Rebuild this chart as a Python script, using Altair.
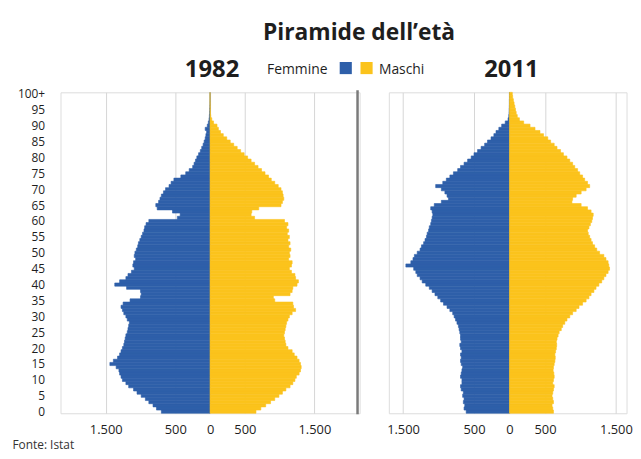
import altair as alt
import pandas as pd

# ---------------- data ----------------
ages = list(range(0, 101))

femmine_1982 = [
    700, 770, 820, 880, 930, 990, 1050, 1100, 1170, 1210,
    1260, 1280, 1300, 1310, 1350, 1440, 1390, 1330, 1300, 1280,
    1260, 1240, 1230, 1220, 1210, 1190, 1180, 1170, 1160, 1190,
    1210, 1240, 1260, 1280, 1250, 1150, 1000, 990, 1000, 1200,
    1370, 1300, 1210, 1180, 1130, 1090, 1110, 1100, 1070, 1090,
    1080, 1060, 1040, 1030, 1010, 990, 970, 950, 940, 920,
    880, 470, 430, 540, 760, 780, 740, 720, 700, 670,
    640, 590, 560, 520, 420, 350, 300, 250, 230, 210,
    190, 165, 140, 120, 100, 85, 70, 60, 50, 70,
    40, 25, 15, 10, 6, 4, 2, 1, 0, 0,
    0,
]

maschi_1982 = [
    660, 730, 800, 870, 930, 990, 1040, 1090, 1150, 1190,
    1220, 1240, 1280, 1300, 1310, 1300, 1280, 1250, 1210, 1180,
    1120, 1090, 1080, 1070, 1060, 1070, 1080, 1090, 1100, 1120,
    1140, 1180, 1230, 1200, 1190, 930, 910, 1150, 1180, 1190,
    1250, 1270, 1230, 1220, 1170, 1140, 1170, 1180, 1130, 1150,
    1140, 1160, 1130, 1150, 1120, 1140, 1110, 1130, 1100, 1120,
    1070, 640, 590, 600, 700, 1020, 1040, 1060, 1050, 1040,
    1020, 980, 930, 880, 840, 790, 740, 690, 640, 590,
    540, 490, 440, 390, 340, 290, 240, 190, 150, 120,
    100, 50, 25, 10, 5, 3, 2, 1, 0, 0,
    0,
]

femmine_2011 = [
    610, 640, 630, 650, 640, 660, 650, 680, 690, 670,
    670, 690, 680, 670, 660, 680, 690, 680, 690, 670,
    690, 700, 680, 690, 690, 700, 710, 720, 740, 760,
    780, 800, 840, 880, 930, 970, 1010, 1050, 1090, 1130,
    1180, 1230, 1260, 1300, 1320, 1350, 1460, 1390, 1360, 1340,
    1300, 1260, 1240, 1210, 1190, 1170, 1160, 1140, 1130, 1110,
    1100, 1090, 1080, 1090, 1110, 1060, 960, 860, 880, 910,
    960, 1040, 940, 890, 840, 790, 730, 690, 640, 590,
    540, 500, 450, 400, 350, 310, 260, 220, 190, 150,
    110, 60, 20, 10, 6, 4, 2, 1, 1, 0,
    0,
]

maschi_2011 = [
    620, 610, 600, 620, 610, 600, 610, 620, 630, 610,
    620, 630, 625, 615, 620, 630, 640, 645, 640, 650,
    660, 665, 660, 670, 685, 700, 730, 750, 780, 810,
    850, 890, 940, 980, 1030, 1080, 1120, 1150, 1190, 1220,
    1260, 1300, 1330, 1360, 1390, 1410, 1400, 1390, 1360, 1330,
    1270, 1230, 1200, 1170, 1150, 1130, 1110, 1100, 1120, 1140,
    1160, 1170, 1180, 1150, 1100, 1010, 880, 890, 940, 1010,
    1080, 1130, 1100, 1060, 1030, 990, 960, 920, 890, 850,
    810, 760, 720, 670, 630, 580, 540, 480, 430, 360,
    290, 200, 140, 110, 95, 85, 75, 65, 55, 45,
    40,
]

years = ["1982", "2011"]
sexes = ["Femmine", "Maschi"]
palette = ["#2E5FA9", "#FBC31C"]
x_tick_values = [-1500, -500, 0, 500, 1500]
y_tick_values = list(range(0, 101, 5))
title_text = "Piramide dell\u2019et\u00e0"
source_text = "Fonte: Istat"

FONT = "Open Sans"
TEXT_COLOR = "#1e1e1e"
PLOT_H = 324

cscale = alt.Scale(domain=sexes, range=palette)


def make_df(fem, mas):
    n = len(ages)
    df = pd.DataFrame({
        "age": ages * 2,
        "sex": [sexes[0]] * n + [sexes[1]] * n,
        "value": [-v for v in fem] + list(mas),
    })
    df["lo"] = df["age"] - 0.5
    df["hi"] = df["age"] + 0.5
    df["zero"] = 0
    return df


def panel(df, year, domain, width, first):
    xscale = alt.Scale(domain=domain, nice=False, zero=False)
    xaxis = alt.Axis(
        values=x_tick_values,
        labelExpr="replace(format(abs(datum.value), ','), ',', '.')",
        title=None, domain=False, ticks=False, tickSize=0,
        grid=True, gridColor="#d6d6d6", gridWidth=1,
        labelFont=FONT, labelFontSize=13, labelColor=TEXT_COLOR,
        labelPadding=10, labelFlush=False, labelOverlap=False,
    )
    yscale = alt.Scale(domain=[-0.5, 100.5], nice=False, zero=False)
    if first:
        yaxis = alt.Axis(
            values=y_tick_values,
            labelExpr="datum.value == 100 ? '100+' : '' + datum.value",
            title=None, domain=False, ticks=False, tickSize=0, grid=False,
            labelFont=FONT, labelFontSize=12, labelColor=TEXT_COLOR,
            labelPadding=16, labelFlush=False, labelOverlap=False,
        )
    else:
        yaxis = None

    bars = alt.Chart(df).mark_rect(
        strokeWidth=0.6, opacity=1, fillOpacity=1, strokeOpacity=1
    ).encode(
        x=alt.X("value:Q", scale=xscale, axis=xaxis),
        x2="zero:Q",
        y=alt.Y("lo:Q", scale=yscale, axis=yaxis),
        y2="hi:Q",
        color=alt.Color("sex:N", scale=cscale, legend=None),
        stroke=alt.Stroke("sex:N", scale=cscale, legend=None),
    )

    year_label = alt.Chart(pd.DataFrame({"year": [year]})).mark_text(
        font=FONT, fontSize=24, fontWeight="bold", align="center",
        baseline="alphabetic", color=TEXT_COLOR, dx=2,
    ).encode(x=alt.datum(0), y=alt.value(-15), text="year:N")

    layers = [bars, year_label]

    if first:
        sep = alt.Chart(pd.DataFrame({"k": [0]})).mark_rule(
            color="#7a7a7a", strokeWidth=2.5
        ).encode(x=alt.datum(2120), y=alt.value(-2), y2=alt.value(PLOT_H + 1))

        fem_txt = alt.Chart(pd.DataFrame({"t": [sexes[0]]})).mark_text(
            font=FONT, fontSize=14, align="right", baseline="alphabetic",
            color=TEXT_COLOR,
        ).encode(x=alt.value(269.5), y=alt.value(-19), text="t:N")
        mas_txt = alt.Chart(pd.DataFrame({"t": [sexes[1]]})).mark_text(
            font=FONT, fontSize=14, align="left", baseline="alphabetic",
            color=TEXT_COLOR,
        ).encode(x=alt.value(321.5), y=alt.value(-19), text="t:N")
        sq_f = alt.Chart(pd.DataFrame({"sex": [sexes[0]]})).mark_square(
            size=150, opacity=1
        ).encode(x=alt.value(288), y=alt.value(-24.5),
                 color=alt.Color("sex:N", scale=cscale, legend=None))
        sq_m = alt.Chart(pd.DataFrame({"sex": [sexes[1]]})).mark_square(
            size=150, opacity=1
        ).encode(x=alt.value(309), y=alt.value(-24.5),
                 color=alt.Color("sex:N", scale=cscale, legend=None))
        src = alt.Chart(pd.DataFrame({"t": [source_text]})).mark_text(
            font=FONT, fontSize=12, align="left", baseline="alphabetic",
            color="#333333",
        ).encode(x=alt.value(-48.5), y=alt.value(PLOT_H + 36), text="t:N")
        layers += [sep, fem_txt, sq_f, sq_m, mas_txt, src]

    return alt.layer(*layers).properties(width=width, height=PLOT_H)


p1 = panel(make_df(femmine_1982, maschi_1982), years[0], [-2150, 2150], 302, True)
p2 = panel(make_df(femmine_2011, maschi_2011), years[1], [-1700, 1650], 240, False)

chart = alt.hconcat(p1, p2, spacing=29.5, bounds="flush").properties(
    title=alt.TitleParams(
        title_text, anchor="middle", dx=37, fontSize=23, font=FONT,
        fontWeight="bold", color=TEXT_COLOR, baseline="alphabetic", offset=-5,
    ),
    padding={"left": 4, "top": 12, "right": 0, "bottom": 0},
).configure_view(stroke=None).configure(background="white")

chart.save("out.html", embed_options={"renderer": "svg", "actions": False})
